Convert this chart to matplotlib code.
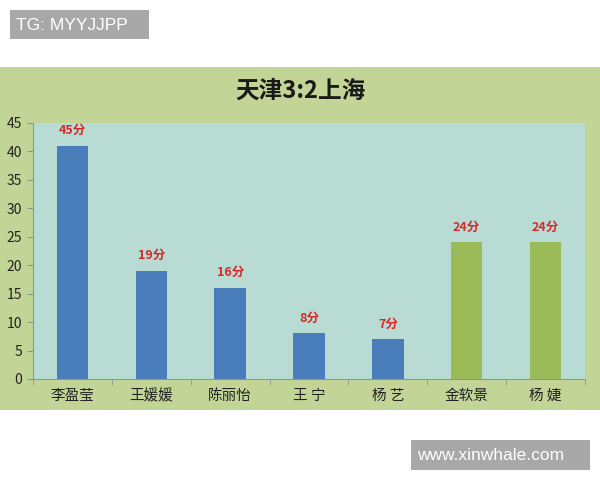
import matplotlib
matplotlib.use('Agg')
import matplotlib.pyplot as plt

plt.rcParams['font.family'] = ['Noto Sans CJK SC', 'DejaVu Sans']

# chart data
players = ['李盈莹', '王媛媛', '陈丽怡', '王 宁', '杨 艺', '金软景', '杨 婕']
bar_values = [41, 19, 16, 8, 7, 24, 24]
point_labels = ['45分', '19分', '16分', '8分', '7分', '24分', '24分']
team = ['tj', 'tj', 'tj', 'tj', 'tj', 'sh', 'sh']
y_ticks = [0, 5, 10, 15, 20, 25, 30, 35, 40, 45]

team_colors = {'tj': '#4a7ebb', 'sh': '#9bbb59'}

fig = plt.figure(figsize=(6, 4.8), dpi=100)
fig.patch.set_facecolor('white')

# green chart background (its own axes, behind the plot)
bg = fig.add_axes([0, 1 - 410 / 480, 1, 343 / 480], zorder=0)
bg.set_facecolor('#c3d596')
bg.set_xticks([])
bg.set_yticks([])
for s in bg.spines.values():
    s.set_visible(False)
bg.text(0.5, 1 - 24 / 343, '天津3:2上海', transform=bg.transAxes, ha='center', va='center',
        fontsize=17, fontweight='bold', color='#1a1a1a')

ax = fig.add_axes([33 / 600, 1 - 379 / 480, 552 / 600, 256 / 480], zorder=1)
ax.set_facecolor('#b8dcd4')

x = range(len(players))
colors = [team_colors[t] for t in team]
bars = ax.bar(x, bar_values, width=0.4, color=colors, edgecolor='none', zorder=2)

for b, lab in zip(bars, point_labels):
    ax.annotate(lab, (b.get_x() + b.get_width() / 2, b.get_height()),
                xytext=(0, 11), textcoords='offset points', ha='center', va='center',
                color='#d42a2a', fontsize=9, fontweight='bold')

ax.set_xlim(-0.5, len(players) - 0.5)
ax.set_ylim(0, 45)
ax.set_yticks(y_ticks)
ax.set_yticklabels([str(v) for v in y_ticks], fontsize=10, color='#222222')
ax.set_xticks(list(x))
ax.set_xticklabels(players, fontsize=10.5, color='#222222')
ax.set_xticks([i + 0.5 for i in range(-1, len(players))], minor=True)
ax.tick_params(axis='x', which='major', length=0, pad=7)
ax.tick_params(axis='x', which='minor', length=4, color='#8a9a8a', direction='out')
ax.tick_params(axis='y', length=4, color='#8a9a8a', pad=4)

for side in ['top', 'right']:
    ax.spines[side].set_visible(False)
ax.spines['left'].set_color('#8a9a8a')
ax.spines['bottom'].set_color('#8a9a8a')

# watermark boxes
wm = fig.add_axes([0, 0, 1, 1], zorder=2)
wm.set_xlim(0, 600)
wm.set_ylim(480, 0)
wm.axis('off')
wm.add_patch(plt.Rectangle((10, 10), 139, 29, facecolor='#a8a8a8', edgecolor='none'))
wm.text(16, 25, 'TG: MYYJJPP', ha='left', va='center', fontsize=12.5,
        color='white', family='Liberation Sans')
wm.add_patch(plt.Rectangle((411, 440), 179, 30, facecolor='#a8a8a8', edgecolor='none'))
wm.text(417, 456, 'www.xinwhale.com', ha='left', va='center', fontsize=12.5,
        color='white', family='Liberation Sans')

fig.savefig('out.png', dpi=100)
